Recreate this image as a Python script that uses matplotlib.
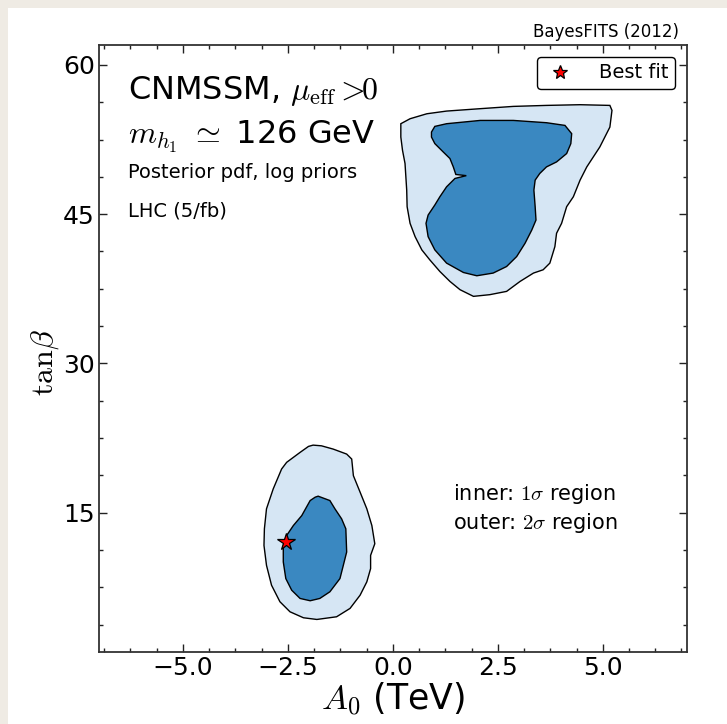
import matplotlib
matplotlib.use('Agg')
import matplotlib.pyplot as plt
from matplotlib.patches import Rectangle
from matplotlib.ticker import AutoMinorLocator

plt.rcParams['mathtext.fontset'] = 'cm'
plt.rcParams['font.family'] = 'DejaVu Sans'

# credible regions in the (A0, tan beta) plane, traced as closed outlines
upper_2sig_a0 = [0.19, 0.41, 0.81, 1.28, 2.08, 2.87, 3.66, 4.46, 5.17, 5.22, 5.17, 4.93,
                 4.62, 4.46, 4.30, 4.14, 4.02, 3.90, 3.86, 3.74, 3.58, 3.35, 3.03, 2.71,
                 2.31, 1.92, 1.60, 1.36, 1.12, 0.88, 0.69, 0.53, 0.41, 0.34, 0.33, 0.31,
                 0.29, 0.23, 0.19, 0.19]
upper_2sig_tb = [54.09, 54.59, 55.09, 55.36, 55.60, 55.83, 55.93, 56.00, 55.93, 55.43, 53.75, 51.75,
                 49.75, 48.42, 46.75, 45.75, 44.08, 43.08, 41.74, 40.08, 39.41, 39.08, 38.24, 37.24,
                 36.91, 36.74, 37.41, 38.24, 39.24, 40.41, 41.41, 42.74, 44.08, 45.75, 47.42, 48.75,
                 50.09, 51.42, 52.75, 53.75]

upper_1sig_a0 = [0.92, 1.00, 1.28, 2.08, 2.87, 3.66, 4.10, 4.26, 4.24, 4.14, 3.90, 3.66,
                 3.50, 3.39, 3.36, 3.39, 3.41, 3.31, 3.15, 2.95, 2.71, 2.39, 2.00, 1.68,
                 1.28, 1.00, 0.84, 0.79, 0.84, 1.00, 1.12, 1.28, 1.48, 1.75, 1.50, 1.44,
                 1.36, 1.20, 1.00, 0.92]
upper_1sig_tb = [53.25, 53.82, 54.09, 54.42, 54.42, 54.19, 53.92, 53.09, 52.09, 51.09, 50.25, 49.75,
                 49.09, 48.42, 47.42, 45.75, 44.41, 43.41, 42.08, 40.74, 39.74, 39.08, 38.81, 39.14,
                 40.08, 41.41, 42.74, 44.08, 44.91, 45.92, 46.75, 47.75, 48.59, 48.87, 48.99, 49.75,
                 50.59, 51.25, 52.09, 52.75]

lower_2sig_a0 = [-1.90, -1.70, -1.42, -1.10, -0.98, -0.94, -0.78, -0.62, -0.50, -0.43, -0.53, -0.53,
                 -0.62, -0.78, -1.02, -1.34, -1.81, -2.13, -2.45, -2.69, -2.89, -3.01, -3.07, -3.06,
                 -3.01, -2.85, -2.65, -2.53, -2.21, -2.01]
lower_2sig_tb = [21.79, 21.72, 21.39, 20.89, 20.39, 18.72, 17.06, 15.39, 13.71, 11.88, 10.71, 9.38,
                 8.05, 6.71, 5.38, 4.54, 4.27, 4.44, 5.04, 6.05, 7.71, 9.71, 11.71, 13.38,
                 15.39, 17.39, 19.39, 20.06, 21.06, 21.66]

lower_1sig_a0 = [-1.78, -1.50, -1.38, -1.22, -1.12, -1.10, -1.18, -1.26, -1.50, -1.74, -1.97, -2.21,
                 -2.41, -2.55, -2.61, -2.61, -2.53, -2.37, -2.17, -1.97, -1.85]
lower_1sig_tb = [16.66, 16.22, 15.39, 14.38, 13.38, 11.05, 9.71, 8.38, 7.05, 6.38, 6.15, 6.38,
                 7.21, 8.38, 10.05, 11.71, 12.71, 13.71, 14.71, 16.22, 16.56]

best_fit_a0 = [-2.55]
best_fit_tb = [12.1]

x_ticks = [-5.0, -2.5, 0.0, 2.5, 5.0]
y_ticks = [15, 30, 45, 60]

color_2sig = '#d6e6f4'
color_1sig = '#3a88c1'

fig = plt.figure(figsize=(7.27, 7.24), dpi=100)
fig.patch.set_facecolor('#efebe4')
# white page area behind everything
fig.patches.append(Rectangle((8 / 727, 0), 1, 1 - 8 / 724, transform=fig.transFigure,
                             facecolor='white', edgecolor='none', zorder=-10))

ax = fig.add_axes([99 / 727, 72 / 724, 587.7 / 727, 607 / 724])
ax.set_facecolor('white')

for xs, ys, col in [(upper_2sig_a0, upper_2sig_tb, color_2sig),
                    (lower_2sig_a0, lower_2sig_tb, color_2sig),
                    (upper_1sig_a0, upper_1sig_tb, color_1sig),
                    (lower_1sig_a0, lower_1sig_tb, color_1sig)]:
    ax.fill(xs, ys, facecolor=col, edgecolor='black', linewidth=1.0, zorder=2)

ax.plot(best_fit_a0, best_fit_tb, linestyle='none', marker='*', markersize=13,
        markerfacecolor='red', markeredgecolor='black', markeredgewidth=0.9,
        label='Best fit', zorder=5)

ax.set_xlim(-7, 7)
ax.set_ylim(1, 62)
ax.set_xticks(x_ticks)
ax.set_yticks(y_ticks)
ax.xaxis.set_minor_locator(AutoMinorLocator(4))
ax.yaxis.set_minor_locator(AutoMinorLocator(4))
ax.tick_params(which='both', direction='in', top=True, right=True, labelsize=18,
               color='#222222')
ax.tick_params(which='major', length=6, width=1.0, pad=3)
ax.tick_params(which='minor', length=3, width=1.0)
for sp in ax.spines.values():
    sp.set_color('#333333')
    sp.set_linewidth(1.3)

ax.set_xlabel(r'$A_0$ (TeV)', fontsize=25, labelpad=0)
ax.set_ylabel(r'$\mathrm{tan}\beta$', fontsize=23)
ax.yaxis.set_label_coords(-0.065, 0.476)

leg = ax.legend(loc='upper right', numpoints=1, fontsize=14, frameon=True,
                fancybox=True, handlelength=1.6, handletextpad=1.2,
                borderpad=0.35, borderaxespad=0.6, markerscale=0.8)
leg.get_frame().set_edgecolor('black')
leg.get_frame().set_linewidth(1.0)
leg.get_frame().set_alpha(1)

ax.text(0.049, 0.911, r'CNMSSM, $\mu_{\rm eff}>\!\!0$', transform=ax.transAxes,
        fontsize=23, va='baseline', ha='left')
ax.text(0.049, 0.838, r'$m_{h_1}\ \simeq$ 126 GeV', transform=ax.transAxes,
        fontsize=23, va='baseline', ha='left')
ax.text(0.049, 0.781, 'Posterior pdf, log priors', transform=ax.transAxes,
        fontsize=14, va='baseline', ha='left')
ax.text(0.049, 0.718, 'LHC (5/fb)', transform=ax.transAxes,
        fontsize=14, va='baseline', ha='left')
ax.text(0.602, 0.250, r'inner: $1\sigma$ region', transform=ax.transAxes,
        fontsize=15, va='baseline', ha='left')
ax.text(0.602, 0.203, r'outer: $2\sigma$ region', transform=ax.transAxes,
        fontsize=15, va='baseline', ha='left')

fig.text(679 / 727, 1 - 37 / 724, 'BayesFITS (2012)', fontsize=12,
         ha='right', va='baseline')

fig.savefig('out.png', dpi=100, facecolor=fig.get_facecolor())
